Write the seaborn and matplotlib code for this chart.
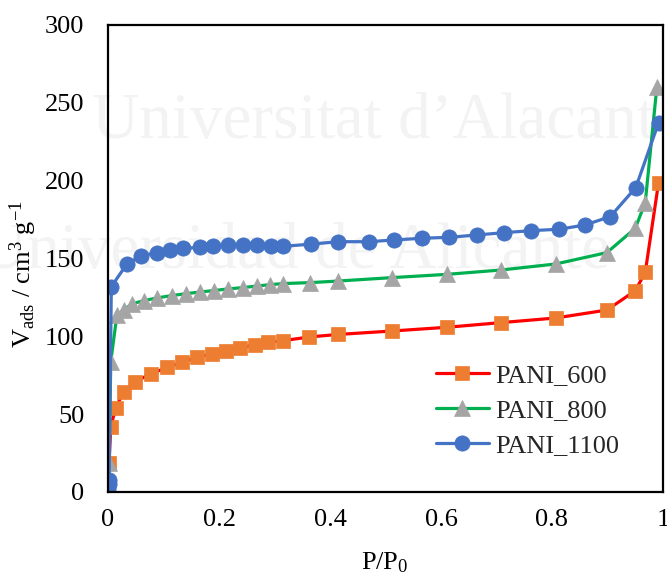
import matplotlib
matplotlib.use("Agg")
import matplotlib.pyplot as plt
import seaborn as sns
import pandas as pd

# ---- data ----
x600 = [0.0005, 0.002, 0.005, 0.014, 0.028, 0.049, 0.077, 0.106, 0.133, 0.160, 0.187, 0.213,
        0.238, 0.264, 0.289, 0.315, 0.363, 0.414, 0.511, 0.610, 0.708, 0.807, 0.899, 0.950,
        0.968, 0.992]
y600 = [2, 18.5, 42, 54, 64.4, 70.9, 75.8, 80, 83.3, 86.5, 88.6, 90.8,
        92.7, 94.4, 96.2, 97.2, 99.6, 101.2, 103.4, 105.8, 108.8, 111.8, 116.9, 129.3,
        141.1, 198.7]

x800 = [0.0005, 0.002, 0.005, 0.016, 0.028, 0.043, 0.064, 0.089, 0.115, 0.141, 0.166, 0.191,
        0.217, 0.243, 0.268, 0.292, 0.316, 0.364, 0.414, 0.511, 0.610, 0.708, 0.807, 0.899,
        0.950, 0.968, 0.989]
y800 = [3, 18.4, 83.7, 113.5, 116.9, 120.8, 122.9, 124.7, 126.2, 127.4, 128.5, 129.4,
        130.5, 131.3, 132.3, 133.2, 133.9, 134.5, 135.5, 137.7, 139.8, 142.6, 146.5, 153.8,
        169.4, 185.9, 260.4]

x1100 = [0.0005, 0.001, 0.002, 0.006, 0.034, 0.059, 0.088, 0.112, 0.136, 0.166, 0.190, 0.217,
         0.243, 0.268, 0.293, 0.315, 0.365, 0.415, 0.470, 0.516, 0.565, 0.615, 0.664, 0.714,
         0.763, 0.813, 0.859, 0.905, 0.951, 0.992]
y1100 = [2, 5, 8, 131.9, 146.5, 151.6, 153.8, 155.5, 156.5, 157.2, 158, 158.7,
         158.7, 158.7, 158.3, 157.8, 159.2, 160.8, 160.8, 161.9, 163, 163.6, 165.1, 166.6,
         167.9, 168.8, 171.5, 176.9, 195.6, 237.2]

series = ["PANI_600", "PANI_800", "PANI_1100"]
xticks = [0, 0.2, 0.4, 0.6, 0.8, 1]
xticklabels = ["0", "0.2", "0.4", "0.6", "0.8", "1"]
yticks = [0, 50, 100, 150, 200, 250, 300]

# ---- style ----
sns.set_theme(style="white")
plt.rcParams["font.family"] = ["Liberation Serif", "DejaVu Serif"]
plt.rcParams["mathtext.fontset"] = "custom"
plt.rcParams["mathtext.rm"] = "Liberation Serif"
plt.rcParams["mathtext.it"] = "Liberation Serif:italic"

FS = 19

fig = plt.figure(figsize=(6.67, 5.78), dpi=100)
ax = fig.add_axes([108/667, 86/578, 555/667, 467/578])
ax.set_facecolor("none")

# watermark
fig.text(92/667, 1 - 138/578, "Universitat d\u2019Alacant", fontsize=47, color="#f3f3f3",
         family="Liberation Serif", zorder=-5)
fig.text(-20/667, 1 - 268/578, "Universidad de Alicante", fontsize=47, color="#f3f3f3",
         family="Liberation Serif", zorder=-5)

styles = [
    dict(color="#FF0000", marker="s", mfc="#ED7D31", mec="#ED7D31", ms=10.5),
    dict(color="#00B050", marker="^", mfc="#A5A5A5", mec="#A5A5A5", ms=11),
    dict(color="#4472C4", marker="o", mfc="#4472C4", mec="#4472C4", ms=11),
]
data = [(x600, y600), (x800, y800), (x1100, y1100)]

for name, (xs, ys), st in zip(series, data, styles):
    df = pd.DataFrame({"x": xs, "y": ys})
    sns.lineplot(data=df, x="x", y="y", ax=ax, estimator=None, sort=False,
                 color=st["color"], marker=st["marker"], markersize=st["ms"],
                 markerfacecolor=st["mfc"], markeredgecolor=st["mec"],
                 markeredgewidth=0.5, linewidth=2.3, label=name)

ax.set_xlim(0, 1)
ax.set_ylim(0, 300)
ax.set_xticks(xticks)
ax.set_xticklabels(xticklabels)
ax.set_yticks(yticks)
ax.tick_params(axis="x", direction="in", length=5, width=1.5, pad=12, labelsize=FS, colors="black")
ax.tick_params(axis="y", length=0, pad=17, labelsize=FS, colors="black")
for s in ax.spines.values():
    s.set_visible(True)
    s.set_color("black")
    s.set_linewidth(1.6)

ax.set_xlabel("P/P$_0$", fontsize=FS, color="black", va="center")
ax.xaxis.set_label_coords((385-108)/555, (492-563)/467)
ax.set_ylabel("V$_{\\mathrm{ads}}$ / cm$^{3}$ g$^{-1}$", fontsize=FS, color="black",
              va="center", ha="center")
ax.yaxis.set_label_coords((23-108)/555, (492-274)/467)

leg = ax.legend(loc="upper left", bbox_to_anchor=((436-108)/555, (492-364)/467),
                frameon=False, fontsize=FS, handlelength=2.0, handletextpad=0.25,
                labelspacing=0.43, borderpad=0, borderaxespad=0)

fig.savefig("out.png", dpi=100)
